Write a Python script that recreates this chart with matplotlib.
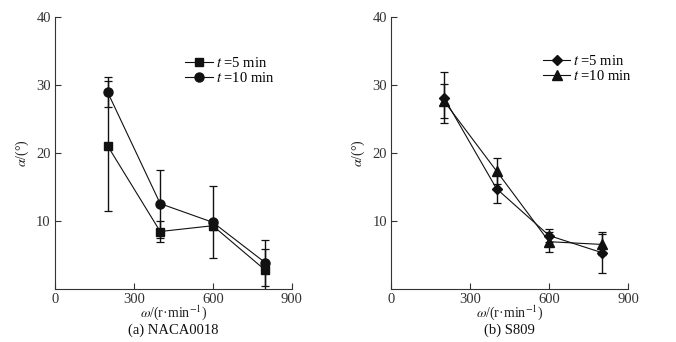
import matplotlib
matplotlib.use("Agg")
import matplotlib.pyplot as plt

plt.rcParams['font.family'] = ['Liberation Serif', 'DejaVu Serif']
plt.rcParams['mathtext.fontset'] = 'stix'

omega = [200, 400, 600, 800]

# (a) NACA0018
a_t5 = [21.1, 8.5, 9.35, 2.8]
a_t5_err = [9.6, 1.6, 0.7, 3.1]
a_t10 = [29.0, 12.6, 9.85, 3.9]
a_t10_err = [2.2, 5.0, 5.3, 3.4]

# (b) S809
b_t5 = [28.2, 14.8, 7.9, 5.4]
b_t5_err = [3.8, 2.1, 1.0, 3.0]
b_t10 = [27.7, 17.4, 7.0, 6.6]
b_t10_err = [2.5, 1.9, 1.5, 1.5]

xticks = [0, 300, 600, 900]
yticks = [10, 20, 30, 40]
captions = ['(a) NACA0018', '(b) S809']
labels = ['$t$ =5 min', '$t$ =10 min']

fig = plt.figure(figsize=(6.76, 3.42), dpi=100)
ax1 = fig.add_axes([55/676, 1-289.3/342, 236.7/676, 272/342])
ax2 = fig.add_axes([391.3/676, 1-289.3/342, 236.7/676, 272/342])

def style(ax, caption):
    ax.set_xlim(0, 900)
    ax.set_ylim(0, 40)
    ax.set_xticks(xticks)
    ax.set_yticks(yticks)
    for s in ['top', 'right']:
        ax.spines[s].set_visible(False)
    for s in ['left', 'bottom']:
        ax.spines[s].set_linewidth(0.8)
        ax.spines[s].set_color('#333333')
    ax.tick_params(direction='in', length=4, width=0.8, labelsize=10.5, colors='#333333', pad=3)
    ax.set_ylabel(r'$\alpha$/(°)', fontsize=10, labelpad=4, color='#222222')
    ax.text(0.5, (289.3-313)/272, r'$\omega$/(r·min$^{-1}$)', transform=ax.transAxes,
            ha='center', va='center', fontsize=10, color='#222222')
    ax.text(0.5, (289.3-330)/272, caption, transform=ax.transAxes, ha='center', va='center',
            fontsize=10.5, color='#111111')

ekw = dict(color='#111111', lw=0.8, elinewidth=1.0, capsize=3, capthick=0.9, clip_on=True)

ax1.errorbar(omega, a_t5, yerr=a_t5_err, marker='s', ms=5.5, label=labels[0], **ekw)
ax1.errorbar(omega, a_t10, yerr=a_t10_err, marker='o', ms=6.5, label=labels[1], **ekw)
ax2.errorbar(omega, b_t5, yerr=b_t5_err, marker='D', ms=5.5, label=labels[0], **ekw)
ax2.errorbar(omega, b_t10, yerr=b_t10_err, marker='^', ms=6.5, label=labels[1], **ekw)

style(ax1, captions[0])
style(ax2, captions[1])

for ax, anchor in [(ax1, (0.55, 0.858)), (ax2, (0.64, 0.866))]:
    h, l = ax.get_legend_handles_labels()
    h = [x[0] for x in h]
    ax.legend(h, l, loc='upper left', bbox_to_anchor=anchor, frameon=False, fontsize=10.5,
              handlelength=1.9, handletextpad=0.2, labelspacing=0.1, borderpad=0, borderaxespad=0)

fig.savefig('out.png', dpi=100)
